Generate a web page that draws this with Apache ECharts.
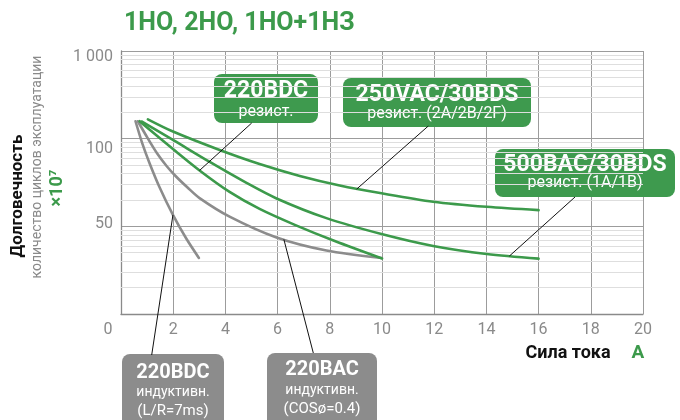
<!DOCTYPE html>
<html><head><meta charset="utf-8">
<script src="https://cdn.jsdelivr.net/npm/echarts@6/dist/echarts.min.js"></script>
<style>html,body{margin:0;padding:0;background:#fff}#c{width:680px;height:420px}</style>
</head><body><div id="c"></div>
<script>
// ---- data (x: current A, y: axis units on log scale) ----
const yTickValues = [1, 10, 100, 1000];
const yTickLabels = ['', '50', '100', '1 000'];
const yMinor = [2,3,4,5,6,7,8,9,20,30,40,50,60,70,80,90,200,300,400,500,600,700,800,900];

const ind220BDC = [[0.556,158],[0.825,86.5],[1.094,52.5],[1.477,27.9],[1.99,13.5],[2.5,7.26],[2.985,4.36]];
const ind220BAC = [[0.645,158],[1.017,102],[1.4,66.8],[1.746,48.8],[2.09,37.5],[2.55,27.7],[3.01,21.0],[4.16,12.9],[5.96,7.46],[7.87,5.3],[10,4.35]];
const res220BDC = [[0.71,158],[1.99,76.2],[3.01,43.4],[4.16,24.7],[5.31,15.8],[6.66,10.4],[8.19,6.8],[10,4.3]];
const res500BAC = [[0.787,157],[1.99,96.6],[3.4,54.2],[4.74,32.1],[5.96,20.8],[7.87,12.4],[9.98,8.17],[11.96,5.97],[14.01,4.83],[16,4.28]];
const res250VAC = [[1.03,166],[1.99,120.5],[3.78,74.2],[5.31,51.3],[6.85,37.5],[8.38,29.2],[9.98,23.8],[11.96,19.1],[14.01,16.7],[16,15.3]];

// annotation anchor points on curves
const anchors = {
  r220: [3.01, 43.4],
  r250: [9.03, 26.6],
  r500: [14.88, 4.58],
  i220dc: [1.99, 13.5],
  i220ac: [6.24, 7.1]
};

const GREEN = '#3c9a4b';
const GRAY = '#8c8c8c';
const FONT = 'Roboto, "Noto Sans", sans-serif';

const chart = echarts.init(document.getElementById('c'), null, {renderer: 'canvas'});

function curve(data, color) {
  return {
    type: 'line', data: data, smooth: 0.3,
    showSymbol: false, symbol: 'none', z: 5, silent: true,
    lineStyle: {color: color, width: 2.6, cap: 'round'}
  };
}

const labelRich = {
  t0: {color: '#8a8a8a', fontSize: 16, fontFamily: FONT},
  t1: {color: '#8a8a8a', fontSize: 16, fontFamily: FONT, padding: [0, 0, 4, 0]},
  t2: {color: '#8a8a8a', fontSize: 16, fontFamily: FONT, padding: [20, 0, 0, 0]},
  t3: {color: '#8a8a8a', fontSize: 16, fontFamily: FONT, padding: [12, 0, 0, 0]}
};

const option = {
  animation: false,
  backgroundColor: '#fff',
  grid: {left: 121, right: 37, top: 51, bottom: 106},
  xAxis: {
    type: 'value', min: 0, max: 20, interval: 2,
    axisLine: {show: true, lineStyle: {color: '#8a8a8a', width: 1.3}},
    axisTick: {show: false},
    axisLabel: {
      color: '#8a8a8a', fontSize: 16, fontFamily: FONT, margin: 8,
      formatter: function (v) { return v === 0 ? '{z|0}' : String(v); },
      rich: {z: {color: '#8a8a8a', fontSize: 16, fontFamily: FONT, padding: [0, 26, 0, 0]}}
    },
    splitLine: {show: true, lineStyle: {color: '#9c9c9c', width: 1}}
  },
  yAxis: {
    type: 'log', logBase: 10, min: 1, max: 1000,
    axisLine: {show: true, lineStyle: {color: '#8a8a8a', width: 1.3}},
    axisTick: {show: false},
    axisLabel: {
      color: '#8a8a8a', fontSize: 16, fontFamily: FONT, margin: 8,
      formatter: function (v) {
        const i = yTickValues.indexOf(Math.round(v));
        if (i <= 0) return '';
        return '{t' + i + '|' + yTickLabels[i] + '}';
      },
      rich: labelRich
    },
    splitLine: {show: true, lineStyle: {color: '#9c9c9c', width: 1}}
  },
  series: [
    {
      type: 'line', data: [], z: 1, silent: true,
      markLine: {
        silent: true, symbol: ['none', 'none'], animation: false,
        label: {show: false},
        lineStyle: {color: '#dedede', type: 'solid', width: 1},
        data: yMinor.map(v => ({yAxis: v}))
      }
    },
    curve(ind220BDC, GRAY),
    curve(ind220BAC, GRAY),
    curve(res220BDC, GREEN),
    curve(res500BAC, GREEN),
    curve(res250VAC, GREEN)
  ]
};
chart.setOption(option);

function px(p) { return chart.convertToPixel({gridIndex: 0}, p); }

function box(x, y, w, h, fill, lines) {
  const children = [{type: 'rect', shape: {x: x, y: y, width: w, height: h, r: 8}, style: {fill: fill}}];
  lines.forEach(l => {
    children.push({
      type: 'text',
      style: {
        text: l.t, x: x + w / 2, y: l.y, fill: '#fff',
        font: (l.b ? 'bold ' : '') + l.s + 'px ' + FONT,
        textAlign: 'center', textVerticalAlign: 'middle', align: 'center', verticalAlign: 'middle'
      }
    });
  });
  return {type: 'group', z: 20, children: children};
}

function pointer(anchor, x2, y2) {
  const p = px(anchor);
  return {type: 'line', z: 15, shape: {x1: p[0], y1: p[1], x2: x2, y2: y2}, style: {stroke: '#111', lineWidth: 1}};
}

function txt(t, x, y, font, fill, rot, align) {
  return {type: 'text', z: 20, x: x, y: y, rotation: rot || 0,
    style: {text: t, x: 0, y: 0, font: font, fill: fill,
      textAlign: align || 'center', textVerticalAlign: 'middle', align: align || 'center', verticalAlign: 'middle'}};
}

const graphics = [
  txt('1НО, 2НО, 1НО+1НЗ', 124, 24, 'bold 25px ' + FONT, GREEN, 0, 'left'),
  txt('Сила тока', 568, 353, 'bold 18px ' + FONT, '#111'),
  txt('A', 638, 353, 'bold 19px ' + FONT, GREEN),
  txt('Долговечность', 18, 196, 'bold 17px ' + FONT, '#111', Math.PI / 2),
  txt('количество циклов эксплуатации', 37, 167, '14px ' + FONT, '#8a8a8a', Math.PI / 2),
  txt('×10⁷', 57, 188, 'bold 18px ' + FONT, GREEN, Math.PI / 2),

  pointer(anchors.r220, 251.7, 123),
  pointer(anchors.r250, 428.3, 126),
  pointer(anchors.r500, 575, 197),
  pointer(anchors.i220dc, 151.7, 355),
  pointer(anchors.i220ac, 313.3, 353),

  box(214, 74, 104, 49, '#3e9a4e', [{t: '220BDC', y: 91, s: 23, b: true}, {t: 'резист.', y: 112, s: 16}]),
  box(343, 78, 188, 49, '#3e9a4e', [{t: '250VAC/30BDS', y: 95, s: 23, b: true}, {t: 'резист. (2A/2B/2F)', y: 114, s: 16}]),
  box(495, 149, 180, 48, '#3e9a4e', [{t: '500BAC/30BDS', y: 165, s: 23, b: true}, {t: 'резист. (1A/1B)', y: 183, s: 16}]),
  box(122, 354, 102, 74, '#8c8c8c', [{t: '220BDC', y: 372.5, s: 20, b: true}, {t: 'индуктивн.', y: 392.5, s: 14}, {t: '(L/R=7ms)', y: 411, s: 15}]),
  box(267, 353, 110, 75, '#8c8c8c', [{t: '220BAC', y: 369.5, s: 20, b: true}, {t: 'индуктивн.', y: 390, s: 14}, {t: '(COSø=0.4)', y: 409, s: 15}])
];
chart.setOption({graphic: graphics});
</script>
</body></html>
